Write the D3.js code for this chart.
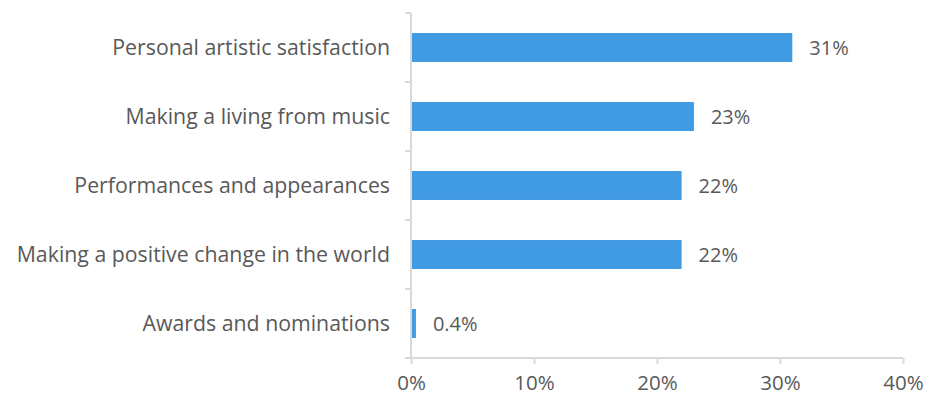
<!DOCTYPE html>
<html>
<head>
<meta charset="utf-8">
<script src="https://cdn.jsdelivr.net/npm/d3@7"></script>
<style>
  html, body { margin: 0; padding: 0; background: #fff; }
  svg { display: block; }
  text { font-family: "Open Sans", "Noto Sans", sans-serif; fill: #595959; }
</style>
</head>
<body>
<svg id="chart" width="926" height="396"></svg>
<script>
// Motivations and their share of respondents (percent)
const categories = [
  "Personal artistic satisfaction",
  "Making a living from music",
  "Performances and appearances",
  "Making a positive change in the world",
  "Awards and nominations"
];
const values = [31, 23, 22, 22, 0.4];
const valueLabels = ["31%", "23%", "22%", "22%", "0.4%"];
const xTicks = [0, 10, 20, 30, 40];

const svg = d3.select("#chart");
const margin = { top: 13, right: 23, bottom: 38, left: 411 };
const width = 926 - margin.left - margin.right;
const height = 396 - margin.top - margin.bottom;
const fontFamily = "'Open Sans', 'Noto Sans', sans-serif";

const g = svg.append("g").attr("transform", `translate(${margin.left},${margin.top})`);

const x = d3.scaleLinear().domain([0, 40]).range([0, width]);
const y = d3.scaleBand().domain(categories).range([0, height]).paddingInner(0.58).paddingOuter(0.29);

const axisColor = "#d9d9d9";

// Vertical category axis with boundary ticks between bands
g.append("line")
  .attr("x1", 0).attr("x2", 0).attr("y1", 0).attr("y2", height)
  .attr("stroke", axisColor).attr("stroke-width", 2);
const step = height / categories.length;
d3.range(categories.length + 1).forEach(i => {
  g.append("line")
    .attr("x1", -6).attr("x2", 0)
    .attr("y1", i * step).attr("y2", i * step)
    .attr("stroke", axisColor).attr("stroke-width", 2);
});

// Horizontal value axis
const xAxis = g.append("g")
  .attr("transform", `translate(0,${height})`)
  .call(d3.axisBottom(x).tickValues(xTicks).tickFormat(d => d + "%").tickSize(6).tickPadding(11));
xAxis.select(".domain").attr("stroke", axisColor).attr("stroke-width", 2).attr("d", `M-6,0H${width}`);
xAxis.selectAll(".tick line").attr("stroke", axisColor).attr("stroke-width", 2);
xAxis.selectAll(".tick text")
  .style("font-family", fontFamily)
  .style("font-size", "20.5px").style("fill", "#595959");

// Category labels
g.selectAll(".cat")
  .data(categories)
  .enter().append("text")
  .attr("class", "cat")
  .attr("x", -21)
  .attr("y", d => y(d) + y.bandwidth() / 2)
  .attr("dy", "0.35em")
  .attr("text-anchor", "end")
  .style("font-size", "21.3px")
  .text(d => d);

// Bars
g.selectAll(".bar")
  .data(values)
  .enter().append("rect")
  .attr("class", "bar")
  .attr("x", 1)
  .attr("y", (d, i) => y(categories[i]))
  .attr("width", d => x(d) - 1)
  .attr("height", y.bandwidth())
  .attr("fill", "#419be3");

// Value labels
g.selectAll(".val")
  .data(values)
  .enter().append("text")
  .attr("class", "val")
  .attr("x", d => x(d) + 17)
  .attr("y", (d, i) => y(categories[i]) + y.bandwidth() / 2)
  .attr("dy", "0.35em")
  .style("font-size", "20px")
  .text((d, i) => valueLabels[i]);
</script>
</body>
</html>
